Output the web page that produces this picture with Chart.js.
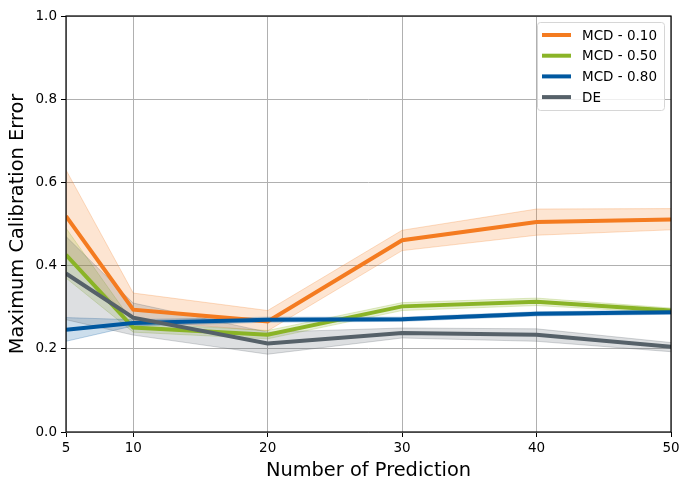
<!DOCTYPE html>
<html><head><meta charset="utf-8">
<script src="https://cdn.jsdelivr.net/npm/chart.js@4.4.1/dist/chart.umd.min.js"></script>
<style>html,body{margin:0;padding:0;background:#fff}#wrap{width:690px;height:490px}</style>
</head><body><div id="wrap"><canvas id="c" width="690" height="490"></canvas></div>
<script>
const xValues = [5, 10, 20, 30, 40, 50];
const xTicks = [5, 10, 20, 30, 40, 50];
const yTicks = [0, 0.2, 0.4, 0.6, 0.8, 1.0];
const labels = ['MCD - 0.10', 'MCD - 0.50', 'MCD - 0.80', 'DE'];
const mcd10 = [0.519, 0.294, 0.266, 0.461, 0.505, 0.511];
const mcd10Lo = [0.42, 0.268, 0.243, 0.436, 0.473, 0.486];
const mcd10Hi = [0.63, 0.334, 0.292, 0.485, 0.536, 0.537];
const mcd50 = [0.426, 0.251, 0.234, 0.302, 0.313, 0.292];
const mcd50Lo = [0.37, 0.24, 0.224, 0.292, 0.304, 0.286];
const mcd50Hi = [0.49, 0.262, 0.244, 0.311, 0.322, 0.298];
const mcd80 = [0.246, 0.262, 0.270, 0.271, 0.284, 0.288];
const mcd80Lo = [0.218, 0.255, 0.264, 0.266, 0.279, 0.283];
const mcd80Hi = [0.275, 0.27, 0.276, 0.276, 0.289, 0.293];
const de = [0.381, 0.275, 0.213, 0.238, 0.234, 0.205];
const deLo = [0.27, 0.233, 0.187, 0.226, 0.218, 0.193];
const deHi = [0.47, 0.31, 0.24, 0.25, 0.248, 0.215];
const colors = ['#F47B20', '#8AB427', '#0058A0', '#566169'];

function pts(arr){ return xValues.map((x,i)=>({x:x, y:arr[i]})); }
function rgba(hex,a){const n=parseInt(hex.slice(1),16);return `rgba(${n>>16},${(n>>8)&255},${n&255},${a})`;}

const series = [[mcd10,mcd10Lo,mcd10Hi],[mcd50,mcd50Lo,mcd50Hi],[mcd80,mcd80Lo,mcd80Hi],[de,deLo,deHi]];
const datasets = [];
series.forEach((s,k)=>{
  datasets.push({label:'_lo'+k, data:pts(s[1]), borderColor:rgba(colors[k],0.25), borderWidth:1, pointRadius:0, fill:false, order:20-k, tension:0});
  datasets.push({label:'_hi'+k, data:pts(s[2]), borderColor:rgba(colors[k],0.25), borderWidth:1, pointRadius:0, backgroundColor:rgba(colors[k],0.2), fill:'-1', order:20-k, tension:0});
});
series.forEach((s,k)=>{
  datasets.push({label:labels[k], data:pts(s[0]), borderColor:colors[k], borderWidth:4, pointRadius:0, fill:false, order:10-k, tension:0, borderCapStyle:'butt'});
});

const frame = {
  id:'frame',
  afterDraw(chart){
    const {ctx, chartArea:a} = chart;
    ctx.save();
    ctx.strokeStyle='#000'; ctx.lineWidth=1.2;
    ctx.strokeRect(a.left, a.top, a.right-a.left, a.bottom-a.top);
    // legend
    const items = chart.data.datasets.filter(d=>!d.label.startsWith('_'));
    const bx=537, by=22, bw=127, bh=88;
    ctx.fillStyle='rgba(255,255,255,0.8)';
    ctx.strokeStyle='#d6d6d6'; ctx.lineWidth=1;
    ctx.beginPath();
    if (ctx.roundRect) ctx.roundRect(bx+0.5,by+0.5,bw,bh,3); else ctx.rect(bx+0.5,by+0.5,bw,bh);
    ctx.fill(); ctx.stroke();
    ctx.font='13.5px "DejaVu Sans"'; ctx.textBaseline='middle'; ctx.fillStyle='#000';
    items.forEach((d,i)=>{
      const y = by+13+i*20.7;
      ctx.strokeStyle=d.borderColor; ctx.lineWidth=4; ctx.lineCap='butt';
      ctx.beginPath(); ctx.moveTo(542,y); ctx.lineTo(571,y); ctx.stroke();
      ctx.fillStyle='#000'; ctx.fillText(d.label, 582, y+1);
    });
    ctx.restore();
  }
};

new Chart(document.getElementById('c'), {
  type:'line',
  data:{datasets},
  options:{
    responsive:false, animation:false, devicePixelRatio:1,
    layout:{padding:{left:0,right:19,top:16,bottom:0}},
    plugins:{legend:{display:false}, tooltip:{enabled:false}},
    scales:{
      x:{type:'linear', min:5, max:50,
        afterBuildTicks(s){ s.ticks = xTicks.map(v=>({value:v})); },
        afterFit(s){ s.height = 58; },
        grid:{color:'#b0b0b0', lineWidth:1, tickColor:'#000', tickLength:5},
        border:{display:false},
        ticks:{color:'#000', font:{family:'DejaVu Sans', size:13.5}, padding:3, maxRotation:0, autoSkip:false},
        title:{display:true, text:'Number of Prediction', color:'#000', font:{family:'DejaVu Sans', size:19.4}, padding:{top:0,bottom:7}}
      },
      y:{min:0, max:1,
        afterBuildTicks(s){ s.ticks = yTicks.map(v=>({value:v})); },
        afterFit(s){ s.width = 66; },
        grid:{color:'#b0b0b0', lineWidth:1, tickColor:'#000', tickLength:5},
        border:{display:false},
        ticks:{color:'#000', font:{family:'DejaVu Sans', size:13.5}, padding:4, callback:v=>v.toFixed(1)},
        title:{display:true, text:'Maximum Calibration Error', color:'#000', font:{family:'DejaVu Sans', size:19.4}, padding:{top:6,bottom:0}}
      }
    }
  },
  plugins:[frame]
});
</script></body></html>
